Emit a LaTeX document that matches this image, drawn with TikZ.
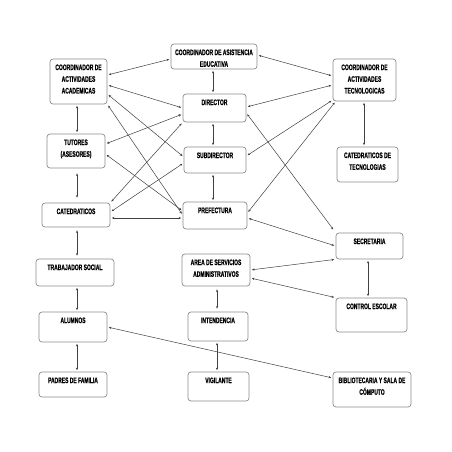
\documentclass[tikz,border=0pt]{standalone}
\usepackage{fontspec}
\newfontfamily\nf{Liberation Sans}[FakeStretch=0.62, BoldFeatures={FakeBold=0.6}]
\usetikzlibrary{arrows.meta}
\newcommand\btxt[3]{\parbox[c][#2pt][t]{#1pt}{\vspace*{5.5pt}\centering #3\par}}
\tikzset{
  orgbox/.style={draw=black!45, line width=0.7pt, rounded corners=3pt, inner sep=0pt,
    font=\nf\bfseries\fontsize{8}{11.7}\selectfont, text=black},
  link/.style={draw=black!75, line width=0.5pt, {Stealth[length=2.6pt,width=2.2pt]}-{Stealth[length=2.6pt,width=2.2pt]},
    shorten <=1.5pt, shorten >=1.5pt}
}
\begin{document}
\begin{tikzpicture}[x=1pt,y=-1pt]
\useasboundingbox[fill=white] (0,0) rectangle (452,452);
% nodes
\node[orgbox] (ca)  at (78.5,81.5) {\btxt{57}{45}{COORDINADOR DE\\ACTIVIDADES\\ACADEMICAS}};
\node[orgbox] (cas) at (214,56.5) {\btxt{86}{25}{COORDINADOR DE ASISTENCIA\\EDUCATIVA}};
\node[orgbox] (ct)  at (364.5,80) {\btxt{63}{42}{COORDINADOR DE\\ACTIVIDADES\\TECNOLOGICAS}};
\node[orgbox] (dir) at (214.5,108) {\btxt{63}{28}{DIRECTOR}};
\node[orgbox] (tu)  at (76,151) {\btxt{58}{34}{TUTORES\\(ASESORES)}};
\node[orgbox] (sub) at (215,160) {\btxt{62}{26}{SUBDIRECTOR}};
\node[orgbox] (ctt) at (367.5,164.5) {\btxt{61}{35}{CATEDRATICOS DE\\TECNOLOGIAS}};
\node[orgbox] (cat) at (76,215) {\btxt{68}{24}{CATEDRATICOS}};
\node[orgbox] (pre) at (215,215.5) {\btxt{64}{27}{PREFECTURA}};
\node[orgbox] (sec) at (369.5,246) {\btxt{67}{26}{SECRETARIA}};
\node[orgbox] (ts)  at (75,272.5) {\btxt{78}{27}{TRABAJADOR SOCIAL}};
\node[orgbox] (asa) at (216,270) {\btxt{68}{32}{AREA DE SERVICIOS\\ADMINISTRATIVOS}};
\node[orgbox] (ce)  at (371.5,315) {\btxt{71}{34}{CONTROL ESCOLAR}};
\node[orgbox] (alu) at (73,327) {\btxt{68}{30}{ALUMNOS}};
\node[orgbox] (int) at (218,326.5) {\btxt{60}{29}{INTENDENCIA}};
\node[orgbox] (bib) at (372,389.5) {\btxt{78}{35}{BIBLIOTECARIA Y SALA DE\\CÓMPUTO}};
\node[orgbox] (pad) at (73,384.5) {\btxt{68}{25}{PADRES DE FAMILIA}};
\node[orgbox] (vig) at (218.5,386.5) {\btxt{61}{29}{VIGILANTE}};
% connectors
\draw[link] (ca.east |- 0,75) -- (cas.west |- 0,59);
\draw[link] (ca.east |- 0,85) -- (dir.west |- 0,108);
\draw[link] (ca.east |- 0,94) -- (sub.west |- 0,157);
\draw[link] (ca.south east) -- (pre.west |- 0,215);
\draw[link] (ca.south -| 77,0) -- (tu.north -| 77,0);
\draw[link] (tu.east |- 0,144) -- (dir.west |- 0,114);
\draw[link] (tu.east |- 0,154) -- (pre.west |- 0,211);
\draw[link, shorten <=5pt, shorten >=5pt] (tu.south -| 77,0) -- (cat.north -| 77,0);
\draw[link] (cat.north east) -- (dir.south west);
\draw[link] (cat.east |- 0,212) -- (sub.west |- 0,163);
\draw[link] (cat.east |- 0,218) -- (pre.west |- 0,218);
\draw[link, shorten <=3pt, shorten >=3pt] (cat.south -| 77,0) -- (ts.north -| 77,0);
\draw[link] (cas.south -| 213,0) -- (dir.north -| 213,0);
\draw[link] (dir.south -| 213,0) -- (sub.north -| 213,0);
\draw[link] (sub.south -| 213,0) -- (pre.north -| 213,0);
\draw[link] (cas.east |- 0,55) -- (ct.west |- 0,76);
\draw[link] (dir.east |- 0,107) -- (ct.west |- 0,85);
\draw[link] (sub.east |- 0,156) -- (ct.west |- 0,100);
\draw[link] (pre.east |- 0,213) -- ([xshift=3pt]ct.south west);
\draw[link, shorten >=4pt] (dir.east |- 0,113) -- (sec.north west);
\draw[link] (ct.south -| 364,0) -- (ctt.north -| 364,0);
\draw[link] (pre.east |- 0,218) -- (sec.west |- 0,246);
\draw[link] (sec.south west) -- (asa.east |- 0,270);
\draw[link] (asa.east |- 0,278) -- (ce.north west);
\draw[link] (sec.south -| 368,0) -- (ce.north -| 368,0);
\draw[link] (alu.east |- 0,327) -- (bib.west |- 0,378);
\draw[link, shorten <=3pt, shorten >=3pt] (asa.south -| 217,0) -- (int.north -| 217,0);
\draw[link] (int.south -| 217,0) -- (vig.north -| 217,0);
\draw[link] (ts.south -| 77,0) -- (alu.north -| 77,0);
\draw[link] (alu.south -| 77,0) -- (pad.north -| 77,0);
\end{tikzpicture}
\end{document}
